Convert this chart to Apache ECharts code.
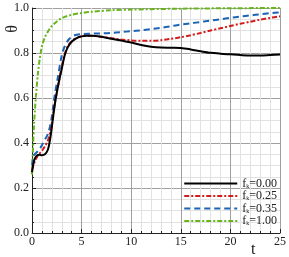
<!DOCTYPE html>
<html><head><meta charset="utf-8">
<script src="https://cdn.jsdelivr.net/npm/echarts@6/dist/echarts.min.js"></script>
<style>html,body{margin:0;padding:0;background:#fff}#c{width:289px;height:257px}</style>
</head><body><div id="c"></div>
<script>
var xTicks = [0, 5, 10, 15, 20, 25];
var yTicks = [0.0, 0.2, 0.4, 0.6, 0.8, 1.0];
var seriesNames = ['0.00', '0.25', '0.35', '1.00'];

var t0 = [0, 0.2, 0.4, 0.7, 1.0, 1.3, 1.6, 1.8, 2.0, 2.2, 2.4, 2.7, 3.0, 3.3, 3.6, 4, 4.5, 5, 5.5, 6, 7, 8, 9, 10, 11, 12, 13, 14, 15, 16, 17, 18, 19, 20, 21, 22, 23, 24, 25];
var th0 = [0.27, 0.32, 0.34, 0.348, 0.346, 0.35, 0.37, 0.41, 0.47, 0.54, 0.60, 0.67, 0.73, 0.79, 0.825, 0.85, 0.866, 0.874, 0.877, 0.877, 0.872, 0.863, 0.855, 0.847, 0.836, 0.828, 0.824, 0.823, 0.822, 0.816, 0.808, 0.801, 0.797, 0.794, 0.791, 0.789, 0.789, 0.791, 0.793];

var t1 = [0, 0.3, 0.6, 1.0, 1.3, 1.6, 1.9, 2.1, 2.4, 2.7, 3.0, 3.3, 3.6, 4, 4.5, 5, 5.5, 6, 7, 8, 9, 10, 11, 12, 13, 14, 15, 16, 17, 18, 19, 20, 21, 22, 23, 24, 25];
var th1 = [0.28, 0.32, 0.345, 0.365, 0.385, 0.41, 0.46, 0.52, 0.60, 0.67, 0.74, 0.795, 0.83, 0.852, 0.867, 0.874, 0.877, 0.877, 0.872, 0.866, 0.86, 0.856, 0.854, 0.854, 0.857, 0.863, 0.87, 0.879, 0.889, 0.9, 0.91, 0.92, 0.93, 0.939, 0.948, 0.956, 0.963];

var t2 = [0, 0.2, 0.5, 0.8, 1.0, 1.3, 1.6, 1.9, 2.1, 2.3, 2.6, 3.0, 3.3, 3.7, 4.2, 5, 6, 7, 8, 9, 10, 11, 12, 13, 14, 15, 16, 17, 18, 19, 20, 21, 22, 23, 24, 25];
var th2 = [0.30, 0.345, 0.36, 0.375, 0.39, 0.415, 0.44, 0.49, 0.55, 0.615, 0.69, 0.79, 0.83, 0.86, 0.877, 0.884, 0.886, 0.887, 0.889, 0.893, 0.897, 0.901, 0.906, 0.912, 0.919, 0.926, 0.932, 0.938, 0.944, 0.95, 0.956, 0.962, 0.967, 0.972, 0.977, 0.981];

var t3 = [0, 0.1, 0.2, 0.3, 0.4, 0.6, 0.8, 1.0, 1.3, 1.6, 2, 2.5, 3, 4, 5, 6, 8, 10, 15, 20, 25];
var th3 = [0.26, 0.38, 0.48, 0.55, 0.61, 0.71, 0.78, 0.83, 0.87, 0.895, 0.92, 0.94, 0.955, 0.97, 0.978, 0.983, 0.99, 0.993, 0.997, 0.999, 1.0];

function pairs(t, v) { return t.map(function (x, i) { return [x, v[i]]; }); }

var serif = "'Liberation Serif', 'Times New Roman', Times, 'DejaVu Serif', serif";
var chart = echarts.init(document.getElementById('c'), null, { renderer: 'canvas' });

function mkSeries(name, t, v, color, dash, z) {
  return {
    name: name, type: 'line', data: pairs(t, v), showSymbol: false, symbol: 'none',
    smooth: 0.3, z: z,
    lineStyle: { color: color, width: 2, type: dash },
    itemStyle: { color: color }
  };
}

chart.setOption({
  animation: false,
  grid: { left: 32, right: 9, top: 8, bottom: 24, containLabel: false },
  xAxis: {
    type: 'value', min: 0, max: 25, interval: 5,
    axisLine: { show: true, onZero: false, lineStyle: { color: '#222', width: 1 } },
    axisTick: { show: true, inside: true, length: 4, lineStyle: { color: '#222' } },
    minorTick: { show: true, splitNumber: 5, length: 2, lineStyle: { color: '#222' } },
    splitLine: { show: true, lineStyle: { color: '#a0a0a0', width: 1 } },
    minorSplitLine: { show: true, lineStyle: { color: '#e2e2e2', width: 1 } },
    axisLabel: { fontFamily: serif, fontSize: 12, color: '#222', margin: 3,
      formatter: function (v) { return xTicks.indexOf(v) >= 0 ? String(v) : ''; } }
  },
  yAxis: {
    type: 'value', min: 0, max: 1, interval: 0.2,
    axisLine: { show: true, onZero: false, lineStyle: { color: '#222', width: 1 } },
    axisTick: { show: true, inside: true, length: 4, lineStyle: { color: '#222' } },
    minorTick: { show: true, splitNumber: 4, length: 2, lineStyle: { color: '#222' } },
    splitLine: { show: true, lineStyle: { color: '#a0a0a0', width: 1 } },
    minorSplitLine: { show: true, lineStyle: { color: '#e2e2e2', width: 1 } },
    axisLabel: { fontFamily: serif, fontSize: 12, color: '#222', margin: 3,
      formatter: function (v) { return v.toFixed(1); } }
  },
  legend: {
    show: true, orient: 'vertical', right: 12, bottom: 30,
    itemWidth: 53, itemHeight: 10, itemGap: 0.5, padding: 0,
    backgroundColor: 'transparent',
    itemStyle: { opacity: 0 },
    formatter: function (n) { return '{a|f}{b|k}{a|=' + n + '}'; },
    textStyle: {
      color: '#222', fontFamily: serif, fontSize: 12,
      rich: {
        a: { fontFamily: serif, fontSize: 12, color: '#222', lineHeight: 13 },
        b: { fontFamily: serif, fontSize: 6, color: '#222', lineHeight: 13, padding: [5, 0, 0, 0] }
      }
    },
    data: seriesNames
  },
  graphic: [
    { type: 'text', left: 5, top: 25, rotation: Math.PI / 2,
      style: { text: 'θ', font: '16px ' + serif, fill: '#222' } },
    { type: 'text', left: 251, top: 242,
      style: { text: 't', font: '16px ' + serif, fill: '#222' } }
  ],
  series: [
    mkSeries(seriesNames[0], t0, th0, '#000000', 'solid', 5),
    mkSeries(seriesNames[1], t1, th1, '#d21c1c', [5, 2, 2, 2], 4),
    mkSeries(seriesNames[2], t2, th2, '#1b63b5', [6, 4], 3),
    mkSeries(seriesNames[3], t3, th3, '#66b51a', [5, 2, 2, 2], 2)
  ]
});
</script></body></html>
